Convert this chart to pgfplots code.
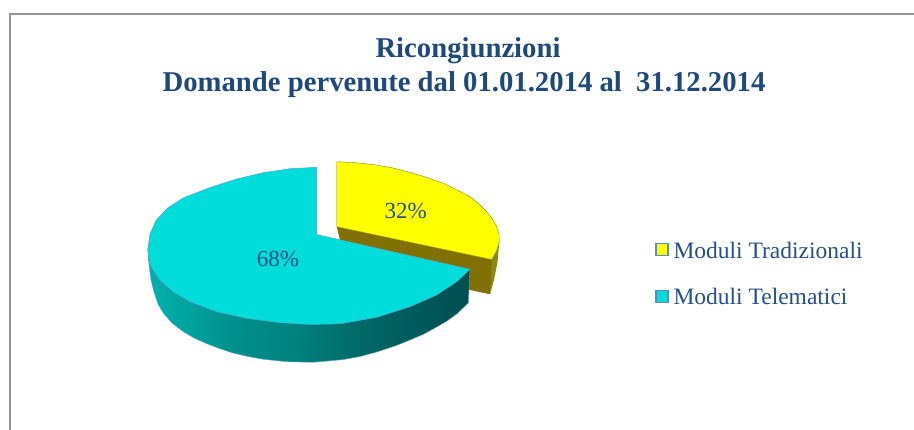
\documentclass[border=0pt]{standalone}
\usepackage{fontspec}
\setmainfont{Liberation Serif}
\usepackage{pgfplots}
\pgfplotsset{compat=1.18}
\definecolor{titleblue}{HTML}{1F497D}
\definecolor{lblue}{HTML}{264F85}
\definecolor{framegray}{HTML}{969696}
\definecolor{pcyan}{HTML}{00DDDB}
\definecolor{pyellow}{HTML}{FFFF00}
\definecolor{polive}{HTML}{7F7000}
\definecolor{polive2}{HTML}{8A8A10}
\definecolor{edgeblue}{HTML}{5AA5CC}
\definecolor{mborder}{HTML}{5B8BC4}
\pgfdeclarehorizontalshading{cyanside}{100bp}{rgb(0bp)=(0,.68,.66); rgb(27bp)=(0,.68,.66); rgb(38bp)=(0,.565,.55); rgb(48bp)=(0,.51,.495); rgb(56bp)=(0,.43,.42); rgb(63bp)=(0,.37,.375); rgb(74bp)=(0,.31,.32); rgb(100bp)=(0,.31,.32)}
\begin{document}
\begin{tikzpicture}
\path[use as bounding box] (0,0) rectangle (914bp,430bp);
\begin{axis}[at={(0,0)},anchor=south west,width=914bp,height=430bp,scale only axis,
 xmin=0,xmax=914,ymin=0,ymax=430,y dir=reverse,hide axis,clip=false]
% frame
\addplot[framegray,line width=2bp] coordinates {(10,430) (10,14) (914,14)};
% yellow slice: sides
\addplot[fill=polive2,draw=none] coordinates {(491.7,258) (499.3,241.7) (497.5,262) (494,280) (490,294) (480,292)} --cycle;
\addplot[fill=polive,draw=none] coordinates {(336.7,226.7) (491.7,259.5) (490,294) (470,290) (430,262) (340,240)} --cycle;
% yellow top
\addplot[fill=pyellow,draw=polive2,line width=0.4bp] coordinates {(336.7,161.7) (357,162.8) (376.7,165) (393,168) (410,172.3) (427,177.5) (443.3,183.3) (457,190) (470,196.7) (479,204) (486.7,211.7) (492.5,219) (496.7,226.7) (499,234) (499.3,241.7) (496.5,251) (491.7,259.5) (336.7,226.7)} --cycle;
% cyan side
\addplot[shading=cyanside,draw=edgeblue,line width=0.4bp] coordinates {(148,250) (149,265) (151,280) (154,292) (158,304) (164,314) (172,323) (183,331.5) (194,338) (206.7,343.6) (220,348.7) (233,353) (248,356.5) (263,359.2) (286.7,361.7) (313,362.3) (343,359.6) (360,356.5) (376.7,352) (395,346) (410,340) (424,334) (436.7,327) (447,321) (456.7,314) (468.3,303) (470,269.3)} --cycle;
% cyan top
\addplot[fill=pcyan,draw=edgeblue,line width=0.5bp] coordinates {(316.7,234.5) (316.7,167.3) (290,168.7) (263.3,172.7) (236.7,179) (210,187.5) (183,198) (167,208.5) (156,220.5) (150,234) (147.7,250) (150,265) (160,280) (173,291.7) (190,301.7) (216.7,311.7) (246.7,318.3) (280,322.7) (306.7,324.3) (330,324.2) (343,323.3) (376.7,317.3) (410,306.7) (436.7,295) (456.7,281.7) (470,269.3)} --cycle;
% legend keys
\addplot[only marks,mark=square*,mark size=6bp,mark options={fill=pyellow,draw=mborder,line width=1.3bp}] coordinates {(662,249.2)};
\addplot[only marks,mark=square*,mark size=6bp,mark options={fill=pcyan,draw=mborder,line width=1.3bp}] coordinates {(662,296.2)};
% texts
\node[anchor=base,text=titleblue,inner sep=0pt] at (axis cs:468,57) {\fontsize{28.7bp}{28.7bp}\selectfont\bfseries Ricongiunzioni};
\node[anchor=base,text=titleblue,inner sep=0pt] at (axis cs:464,91) {\fontsize{28.7bp}{28.7bp}\selectfont\bfseries Domande pervenute dal 01.01.2014 al\ \ 31.12.2014};
\node[anchor=base west,text=lblue,inner sep=0pt] at (axis cs:673.3,258) {\fontsize{23.5bp}{23.5bp}\selectfont Moduli Tradizionali};
\node[anchor=base west,text=lblue,inner sep=0pt] at (axis cs:673.3,304) {\fontsize{23.5bp}{23.5bp}\selectfont Moduli Telematici};
\node[anchor=base,text=lblue,inner sep=0pt] at (axis cs:405.7,218) {\fontsize{23bp}{23bp}\selectfont 32\%};
\node[anchor=base,text=lblue,inner sep=0pt] at (axis cs:278,266) {\fontsize{23bp}{23bp}\selectfont 68\%};
\end{axis}
\end{tikzpicture}
\end{document}
